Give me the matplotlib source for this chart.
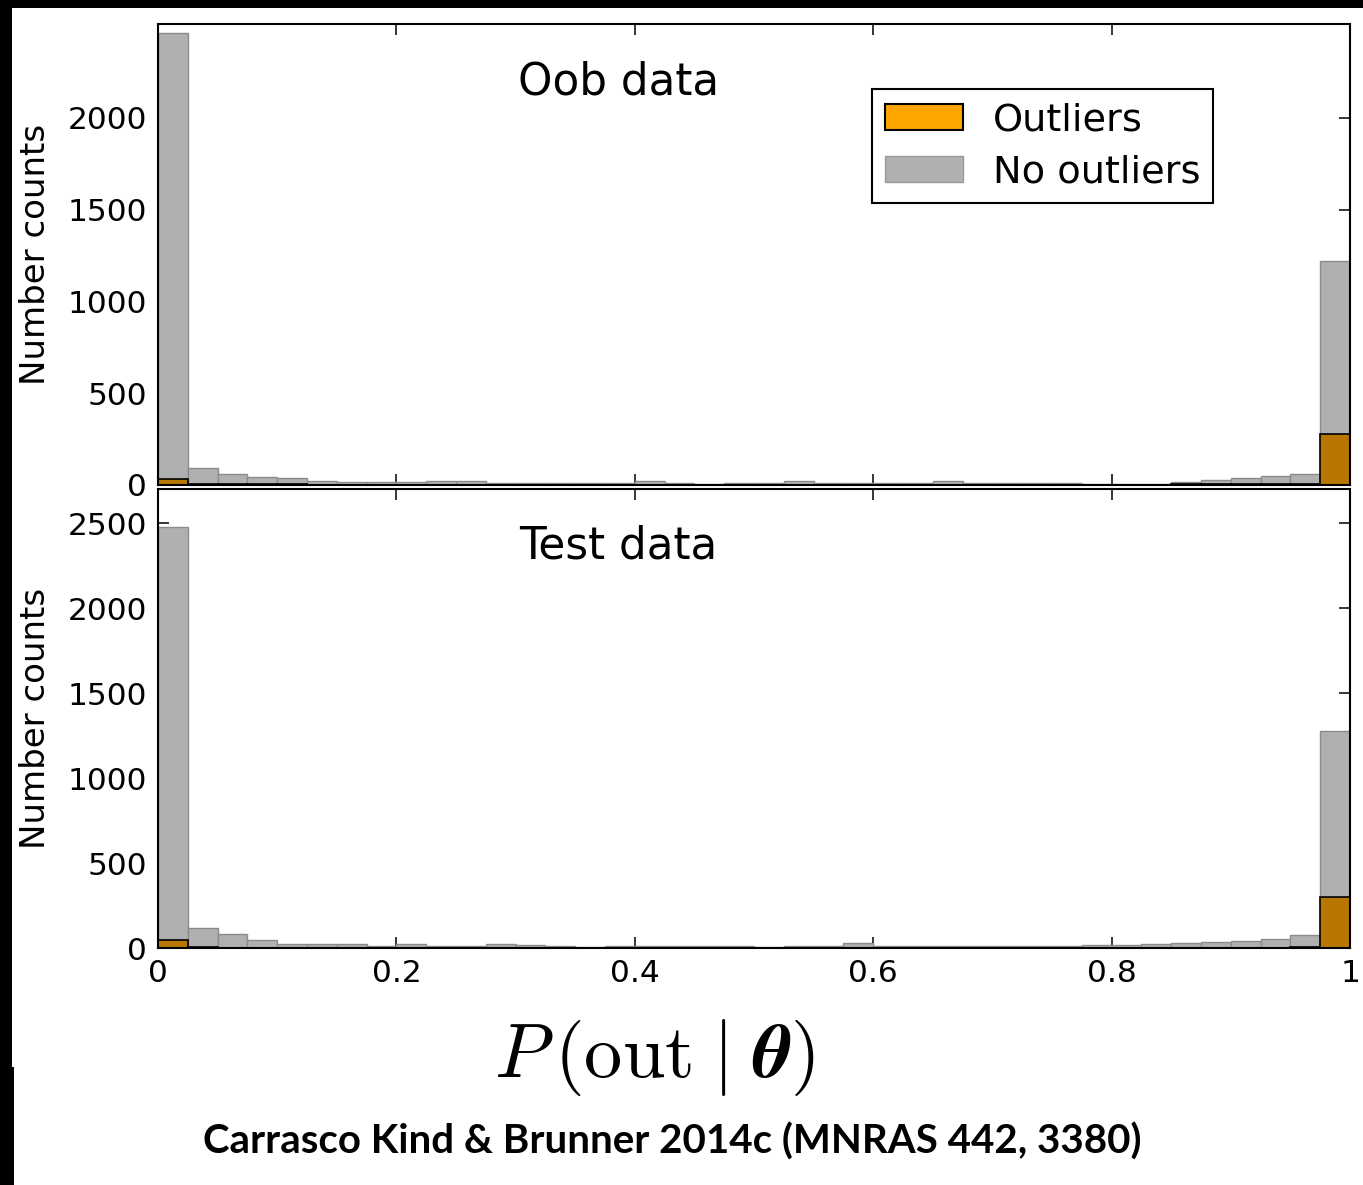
import numpy as np
import matplotlib
matplotlib.use('Agg')
import matplotlib.pyplot as plt
from matplotlib.patches import Patch, Rectangle

# ---------------- data (counts per bin, 40 bins over [0, 1]) ----------------
bin_edges = np.linspace(0.0, 1.0, 41)

oob_no_outliers = [2460, 95, 62, 42, 40, 20, 18, 18, 18, 20,
                   20, 10, 10, 10, 10, 10, 22, 10, 3, 10,
                   10, 22, 10, 10, 10, 10, 20, 10, 10, 10,
                   10, 8, 8, 8, 16, 26, 36, 47, 61, 1219]
oob_outliers = [30, 5, 3, 3, 3, 2, 2, 2, 2, 2,
                2, 2, 2, 2, 2, 2, 2, 2, 0, 2,
                2, 2, 2, 2, 2, 2, 2, 2, 2, 2,
                2, 2, 2, 2, 3, 3, 3, 4, 5, 280]

test_no_outliers = [2475, 118, 82, 47, 27, 27, 27, 16, 27, 16,
                    12, 27, 20, 16, 8, 16, 16, 16, 16, 16,
                    5, 16, 16, 29, 16, 16, 16, 14, 16, 16,
                    16, 20, 20, 28, 29, 35, 45, 55, 76, 1276]
test_outliers = [50, 5, 4, 4, 4, 4, 4, 4, 4, 4,
                 4, 4, 4, 4, 4, 4, 4, 4, 4, 4,
                 2, 4, 4, 4, 4, 4, 4, 4, 4, 4,
                 4, 4, 4, 4, 4, 4, 4, 4, 5, 302]

panel_titles = ['Oob data', 'Test data']
x_ticks = [0, 0.2, 0.4, 0.6, 0.8, 1.0]
x_tick_labels = ['0', '0.2', '0.4', '0.6', '0.8', '1']
oob_y_ticks = [0, 500, 1000, 1500, 2000]
test_y_ticks = [0, 500, 1000, 1500, 2000, 2500]
legend_labels = ['Outliers', 'No outliers']
y_label = 'Number counts'
x_label = r'$P\,(\mathrm{out}\;|\;\boldsymbol{\theta})$'
citation = 'Carrasco Kind & Brunner 2014c (MNRAS 442, 3380)'

# ---------------- styling ----------------
plt.rcParams['mathtext.fontset'] = 'cm'
plt.rcParams['font.family'] = ['DejaVu Sans']

W, H = 1363, 1185
fig = plt.figure(figsize=(W / 100, H / 100), dpi=100, facecolor='black')

# white slide area (behind everything)
fig.patches.append(Rectangle((12 / W, (H - 1067) / H), 1 - 12 / W, (1067 - 8) / H,
                             transform=fig.transFigure, facecolor='white',
                             edgecolor='none', zorder=-10))
fig.patches.append(Rectangle((14 / W, 0), 1 - 14 / W, (H - 1066) / H,
                             transform=fig.transFigure, facecolor='white',
                             edgecolor='none', zorder=-10))

GRAY = '#b0b0b0'
GRAY_EDGE = '#8c8c8c'
ORANGE_BAR = '#b87700'
ORANGE_LEG = '#ffa500'

ax_top = fig.add_axes([158 / W, 1 - 485 / H, 1192 / W, (485 - 24) / H], zorder=1)
ax_bot = fig.add_axes([158 / W, 1 - 948.3 / H, 1192 / W, (948.3 - 489) / H], zorder=1)

panels = [
    (ax_top, oob_no_outliers, oob_outliers, oob_y_ticks, 2510),
    (ax_bot, test_no_outliers, test_outliers, test_y_ticks, 2700),
]

for i, (ax, gray_counts, orange_counts, yticks, ytop) in enumerate(panels):
    centers = bin_edges[:-1] + np.diff(bin_edges) / 2
    ax.hist(centers, bins=bin_edges, weights=gray_counts, color=GRAY,
            edgecolor=GRAY_EDGE, linewidth=1.0, zorder=2)
    ax.hist(centers, bins=bin_edges, weights=orange_counts, color=ORANGE_BAR,
            edgecolor='black', linewidth=1.2, zorder=3)
    ax.set_xlim(0, 1)
    ax.set_ylim(0, ytop)
    ax.set_yticks(yticks)
    ax.set_yticklabels([str(t) for t in yticks])
    ax.set_xticks(x_ticks)
    if i == 1:
        ax.set_xticklabels(x_tick_labels)
    else:
        ax.set_xticklabels([])
    ax.tick_params(direction='in', length=8, width=1.1, labelsize=22.5, pad=8,
                   top=True, right=True, colors='black')
    for sp in ax.spines.values():
        sp.set_linewidth(1.5)
        sp.set_zorder(5)
    ax.set_ylabel(y_label, fontsize=24.5)
    ax.yaxis.set_label_coords(-0.089, 0.5)
    ax.text(0.386, 0.8476, panel_titles[i], transform=ax.transAxes,
            ha='center', va='baseline', fontsize=31.5)

handles = [Patch(facecolor=ORANGE_LEG, edgecolor='black', linewidth=1.5),
           Patch(facecolor=GRAY, edgecolor='#999999', linewidth=1.0)]
leg = ax_top.legend(handles, legend_labels, loc='upper right',
                    bbox_to_anchor=(0.885, 0.858), borderaxespad=0,
                    fontsize=27.5, handlelength=2.05, handleheight=0.68,
                    handletextpad=0.78, borderpad=0.33, labelspacing=0.42,
                    fancybox=False, framealpha=1, edgecolor='black')
leg.get_frame().set_linewidth(1.5)

fig.text(655 / W, 1 - 1057 / H, x_label, ha='center', va='center',
         fontsize=55, color='black', zorder=2)

fig.text(672 / W, 1 - 1142 / H, citation, ha='center', va='center',
         fontsize=29, fontweight='bold', family='Lato', color='black', zorder=2)

fig.savefig('out.png', dpi=100, facecolor='black')
